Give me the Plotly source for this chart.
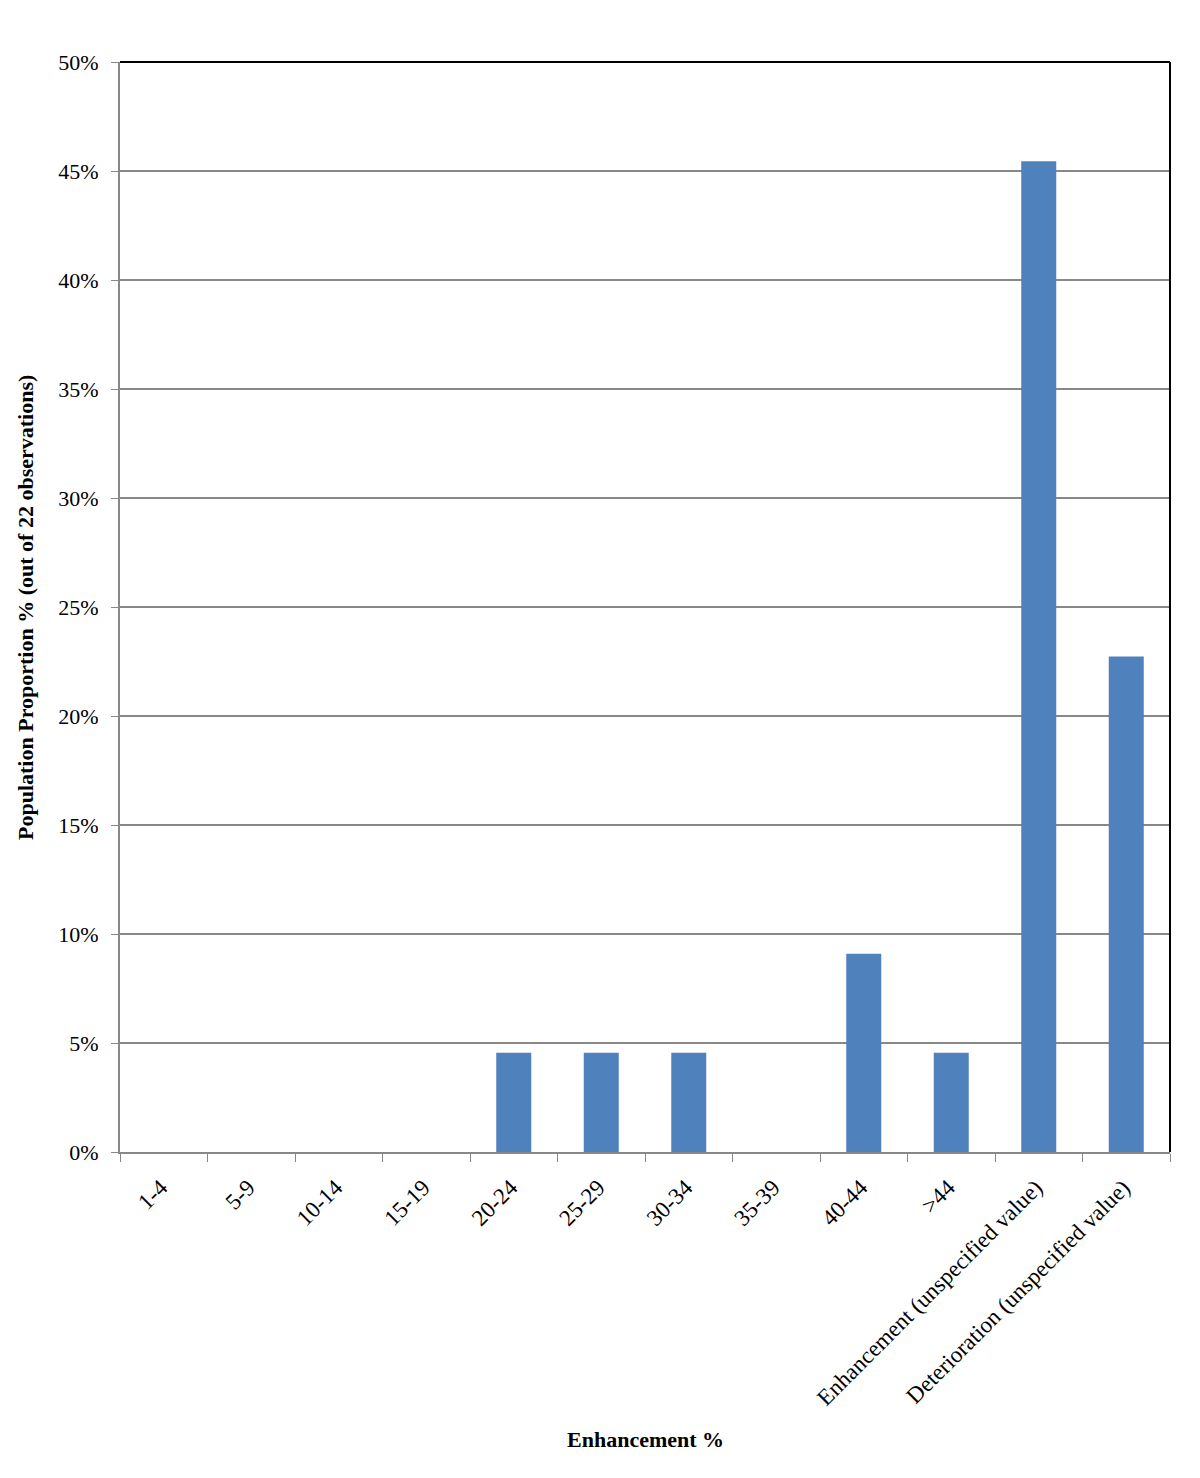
import plotly.graph_objects as go

categories = ['1-4', '5-9', '10-14', '15-19', '20-24', '25-29', '30-34', '35-39',
              '40-44', '>44', 'Enhancement (unspecified value)',
              'Deterioration (unspecified value)']
# proportion of the 22 observations
proportion = [0, 0, 0, 0, 0.0455, 0.0455, 0.0455, 0, 0.0909, 0.0455, 0.4545, 0.2273]

serif = 'Liberation Serif, Times New Roman, serif'

fig = go.Figure()
fig.add_trace(go.Bar(x=categories, y=proportion, marker_color='#4F81BD',
                     marker_line_width=0))

# page body has an 8px margin, so offsets are compensated here
fig.update_layout(
    width=1200, height=1478,
    margin=dict(l=112, r=38, t=54, b=334),
    plot_bgcolor='white', paper_bgcolor='white',
    bargap=0.6, showlegend=False,
    font=dict(family=serif, size=22, color='black'),
)
fig.update_xaxes(
    type='category', tickangle=-45, tickson='boundaries',
    ticks='outside', ticklen=8, tickcolor='#888888',
    showline=True, linecolor='#888888', linewidth=2,
    showgrid=False, tickfont=dict(family=serif, size=23),
    ticklabelstandoff=11, ticklabelshift=-3,
)
fig.update_yaxes(
    range=[0, 0.5], dtick=0.05, tickformat='.0%',
    ticks='outside', ticklen=7, tickcolor='#888888',
    showline=True, linecolor='#888888', linewidth=2,
    showgrid=True, gridcolor='#888888', gridwidth=1.5,
    zeroline=False, tickfont=dict(family=serif, size=22),
    ticklabelstandoff=8,
)

# black top and right border of the plot area
fig.add_shape(type='line', xref='paper', yref='paper', x0=0, x1=1, y0=1, y1=1,
              line=dict(color='black', width=2))
fig.add_shape(type='line', xref='paper', yref='paper', x0=1, x1=1, y0=0, y1=1,
              line=dict(color='black', width=2))

fig.add_annotation(text='<b>Enhancement %</b>', xref='paper', yref='paper',
                   x=0.5, y=-0.264, showarrow=False, yanchor='middle',
                   font=dict(family=serif, size=22))
fig.add_annotation(text='<b>Population Proportion % (out of 22 observations)</b>',
                   xref='paper', yref='paper', x=-0.0905, y=0.5, textangle=-90,
                   showarrow=False, xanchor='center',
                   font=dict(family=serif, size=22))

fig.write_html('out.html')
